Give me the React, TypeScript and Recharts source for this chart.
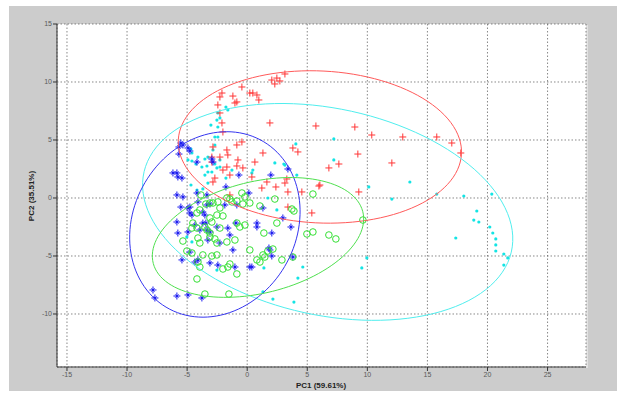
import { CartesianGrid, Scatter, ScatterChart, XAxis, YAxis } from "recharts";

const X_TICKS = [-15, -10, -5, 0, 5, 10, 15, 20, 25];
const Y_TICKS = [-10, -5, 0, 5, 10, 15];

// PC scores, one list per group
const RED_POINTS: [number, number][] = [
  [3.14, 10.69], [2.05, 10.17], [2.3, 9.83], [2.72, 10.09], [2.47, 10.34],
  [-0.44, 9.57], [-2.1, 9.05], [-2.27, 8.71], [-1.19, 8.79], [-0.86, 8.28],
  [-1.02, 8.19], [0.22, 9.05], [0.47, 9.05], [0.81, 8.88], [0.97, 8.45],
  [-2.44, 8.02], [-2.27, 7.33], [-2.1, 6.47], [1.89, 6.47], [-2.02, 5.69],
  [-2.85, 4.4], [-2.94, 3.53], [-2.27, 3.53], [-1.69, 4.14], [-1.61, 3.71],
  [-0.86, 4.57], [-0.44, 4.83], [1.31, 3.88], [3.8, 4.31], [4.22, 3.97],
  [-0.77, 3.28], [-0.86, 2.76], [-1.69, 2.67], [-1.44, 1.98], [-2.02, 2.41],
  [-0.36, 2.59], [0.64, 3.1], [0.39, 1.81], [-2.69, 1.72], [1.22, 0.86],
  [2.39, 0.95], [3.14, 1.29], [4.55, 0.52], [6.05, 1.12], [-2.94, 3.1],
  [5.72, 6.21], [8.96, 6.12], [10.37, 5.43], [12.95, 5.26], [15.78, 5.26],
  [17.03, 4.74], [17.78, 3.88], [9.21, 3.79], [6.8, 2.59], [7.63, 2.93],
  [12.04, 3.02], [3.3, 1.64], [3.39, 0.52], [5.97, 1.03], [9.29, 0.52],
  [3.39, -0.78], [5.38, -1.29], [-1.44, 0.26], [-2.85, 1.38], [1.64, 1.38],
];

const CYAN_POINTS: [number, number][] = [
  [-1.77, 7.84], [-1.61, 7.59], [-2.44, 7.33], [-2.52, 6.72], [-2.27, 6.9],
  [-3.02, 6.29], [-2.44, 6.12], [-2.69, 5.26], [-2.44, 5.26], [-2.69, 4.57],
  [-2.85, 4.14], [-4.68, 4.22], [-4.6, 3.88], [-4.1, 3.53], [-3.52, 3.36],
  [-3.27, 3.53], [-4.93, 3.28], [-4.6, 3.19], [-4.27, 2.93], [-3.35, 2.76],
  [-3.52, 1.98], [-2.69, 2.93], [-2.52, 2.59], [-2.94, 2.24], [-2.27, 3.28],
  [-2.27, 2.67], [-3.27, 2.24], [-3.77, 2.67], [-1.27, 2.41], [-1.77, 1.72],
  [0.47, 2.41], [0.39, 2.16], [2.3, 3.02], [3.14, 2.84], [4.13, 1.98],
  [1.72, 0.0], [-4.68, 1.12], [-4.18, 0.69], [-3.69, 0.78], [4.05, 4.66],
  [7.21, 5.09], [7.21, 3.28], [3.05, 2.93], [10.12, 0.95], [13.54, 1.38],
  [12.04, -0.09], [15.78, 0.34], [18.03, 0.17], [20.36, 0.34], [19.11, -1.12],
  [18.86, -1.9], [19.28, -2.07], [17.36, -3.45], [20.19, -2.5], [20.44, -3.02],
  [20.69, -3.53], [20.69, -4.05], [20.69, -4.57], [21.36, -4.83], [21.69, -5.17],
  [21.36, -5.78], [9.96, -5.17], [9.54, -6.03], [2.47, -1.03], [4.63, -5.95],
  [4.22, -6.9], [1.31, -8.1], [2.14, -8.71], [3.89, -8.97], [1.39, -6.03],
  [-3.27, 1.29], [-4.6, -3.79], [-2.52, -6.21], [-5.02, -3.36],
];

const BLUE_POINTS: [number, number][] = [
  [-5.52, 4.74], [-5.35, 4.57], [-5.68, 4.4], [-4.93, 4.31], [-4.77, 4.05],
  [-5.68, 3.79], [-4.18, 3.1], [-2.94, 3.36], [-2.85, 3.1], [-1.77, 0.95],
  [-0.69, 1.98], [1.97, 1.98], [3.39, 2.5], [-6.18, 2.16], [-5.77, 1.81],
  [-5.43, 1.72], [-5.85, 2.16], [-5.85, 0.26], [-5.35, 0.09], [-4.18, 0.43],
  [-3.35, 0.26], [-5.52, -0.78], [-4.93, -0.86], [-3.35, -0.6], [-0.86, -0.6],
  [-1.86, -0.6], [-4.1, -0.34], [-3.1, -0.52], [-4.77, -0.78], [-5.85, -2.07],
  [-4.77, -1.29], [-4.6, -1.47], [-3.69, -1.21], [-3.52, -1.47], [-3.69, -2.16],
  [-3.44, -2.16], [-4.35, -2.33], [-3.94, -2.76], [-5.77, -3.02], [-4.93, -2.93],
  [-3.35, -2.76], [-3.1, -2.93], [-3.27, -3.62], [-2.52, -2.5], [-1.61, -2.59],
  [-1.44, -3.19], [0.81, -2.16], [2.05, -3.02], [-2.27, -3.88], [-1.19, -4.48],
  [-4.77, -4.66], [-4.35, -5.52], [-4.1, -5.34], [-3.1, -5.6], [-2.44, -5.78],
  [-5.43, -5.34], [-1.02, -5.95], [1.89, -4.48], [0.39, -5.95], [3.8, -5.09],
  [-7.84, -7.93], [-7.68, -8.62], [-5.85, -8.45], [-4.93, -8.36], [-3.77, -8.62],
  [0.14, 0.43], [-0.94, -2.16], [1.31, -0.86], [2.97, -1.72], [3.64, -2.5],
  [1.81, -4.31], [2.05, -5.0], [0.81, -2.5], [0.22, -5.95],
];

const GREEN_POINTS: [number, number][] = [
  [-3.85, 0.26], [-3.44, -0.52], [-2.85, -0.43], [-2.44, -0.34], [-1.69, 0.0],
  [-1.27, -0.34], [-0.86, -0.26], [-0.36, -0.52], [-0.19, 0.09], [0.22, -0.43],
  [-2.27, -0.86], [-2.52, -1.47], [-3.94, -1.03], [-4.18, -1.29], [-2.02, -1.55],
  [-3.1, -1.72], [-2.94, -2.07], [-0.86, -2.16], [-0.61, -2.5], [-0.19, -2.33],
  [-4.52, -2.16], [-4.6, -2.59], [-4.18, -2.59], [-3.52, -2.5], [-3.35, -2.76],
  [-2.27, -2.59], [-3.1, -3.02], [-3.1, -3.36], [-4.1, -3.45], [-3.94, -3.88],
  [-5.35, -3.71], [-1.69, -3.79], [-1.02, -3.62], [-2.52, -3.88], [-2.69, -3.53],
  [0.22, -4.48], [1.39, -3.02], [2.47, -2.16], [3.72, -0.95], [3.89, -1.12],
  [5.47, 0.34], [5.47, -2.93], [4.97, -3.1], [-5.02, -4.57], [-4.6, -4.74],
  [-3.69, -4.91], [-2.94, -5.0], [-2.52, -4.91], [-4.1, -5.52], [-3.94, -5.95],
  [-1.44, -5.69], [-1.61, -5.95], [-2.02, -6.12], [-0.86, -6.55], [0.81, -5.34],
  [1.06, -5.52], [1.47, -5.09], [1.31, -4.91], [2.89, -5.34], [3.8, -5.09],
  [-4.18, -6.98], [-3.52, -8.28], [-1.52, -8.28], [-1.44, -0.09], [-0.44, 0.43],
  [1.06, -0.69], [2.3, -0.09], [6.8, -3.19], [7.38, -3.53], [2.14, -4.4],
  [1.72, -4.57], [9.63, -1.9], [-3.1, -0.43],
];

// confidence ellipses: centre, semi-axes, rotation in degrees
const RED_ELLIPSE = { cx: 6.05, cy: 4.4, a: 11.8, b: 6.55, angle: -3 };
const CYAN_ELLIPSE = { cx: 6.7, cy: -1.2, a: 15.67, b: 8.9, angle: -12.8 };
const BLUE_ELLIPSE = { cx: -2.69, cy: -2.28, a: 8.22, b: 6.83, angle: 65.3 };
const GREEN_ELLIPSE = { cx: 0.9, cy: -3.4, a: 9.0, b: 4.8, angle: 14.5 };

type Ellipse = typeof RED_ELLIPSE;

function toRows(points: [number, number][]) {
  return points.map(([x, y]) => ({ x, y }));
}

function outline(e: Ellipse) {
  const rad = (e.angle * Math.PI) / 180;
  const rows = [];
  for (let i = 0; i <= 120; i++) {
    const t = (i / 120) * Math.PI * 2;
    const u = e.a * Math.cos(t);
    const v = e.b * Math.sin(t);
    rows.push({
      x: e.cx + u * Math.cos(rad) - v * Math.sin(rad),
      y: e.cy + u * Math.sin(rad) + v * Math.cos(rad),
    });
  }
  return rows;
}

const RED = "#ff3636";
const CYAN = "#14e4e4";
const BLUE = "#1a1af0";
const GREEN = "#33e033";

function PlusMark(props: any) {
  const { cx, cy } = props;
  return (
    <path
      d={`M${cx - 3.5},${cy}H${cx + 3.5}M${cx},${cy - 3.5}V${cy + 3.5}`}
      stroke={RED}
      strokeWidth={1}
      fill="none"
    />
  );
}

function StarMark(props: any) {
  const { cx, cy } = props;
  const d = 1.6;
  return (
    <path
      d={`M${cx - 3.5},${cy}H${cx + 3.5}M${cx},${cy - 3.5}V${cy + 3.5}M${cx - d},${cy - d}L${cx + d},${cy + d}M${cx - d},${cy + d}L${cx + d},${cy - d}`}
      stroke={BLUE}
      strokeWidth={1}
      fill="none"
    />
  );
}

function CircleMark(props: any) {
  const { cx, cy } = props;
  return <circle cx={cx} cy={cy} r={3.3} stroke={GREEN} strokeWidth={1} fill="none" />;
}

function DotMark(props: any) {
  const { cx, cy } = props;
  return <circle cx={cx} cy={cy} r={1.6} fill={CYAN} />;
}

const NoMark = () => <g />;

export default function App() {
  const tickStyle = { fill: "#5a5a5a", fontSize: 7, fontFamily: "Liberation Sans, Arial, sans-serif" };
  const labelStyle: React.CSSProperties = {
    position: "absolute",
    fontFamily: "Liberation Sans, Arial, sans-serif",
    fontSize: 8,
    fontWeight: "bold",
    color: "#222",
    whiteSpace: "nowrap",
  };

  return (
    <div style={{ position: "absolute", left: 0, top: 0, width: 617, height: 394, background: "#fff" }}>
      <div style={{ position: "absolute", left: 9, top: 6, width: 608, height: 385, background: "#cccccc" }} />
      <div
        style={{
          position: "absolute",
          left: 57,
          top: 24,
          width: 529,
          height: 343,
          background: "#fff",
          boxShadow: "2px 1px 0 #e2e2e2",
        }}
      />
      <div style={{ position: "absolute", left: 0, top: 0 }}>
        <ScatterChart width={617} height={394} margin={{ top: 24, right: 31, bottom: 0, left: 17 }}>
          <CartesianGrid stroke="#555" strokeDasharray="1.5 2" strokeWidth={0.7} />
          <XAxis
            type="number"
            dataKey="x"
            domain={[-15.83, 28.2]}
            ticks={X_TICKS}
            allowDataOverflow
            height={27}
            tick={tickStyle}
            tickSize={4}
            tickMargin={1}
            axisLine={{ stroke: "#333" }}
            tickLine={{ stroke: "#333" }}
          />
          <YAxis
            type="number"
            dataKey="y"
            domain={[-14.57, 15]}
            ticks={Y_TICKS}
            allowDataOverflow
            width={40}
            tick={tickStyle}
            tickSize={4}
            tickMargin={1}
            axisLine={{ stroke: "#333" }}
            tickLine={{ stroke: "#333" }}
          />
          <Scatter data={toRows(CYAN_POINTS)} shape={DotMark} isAnimationActive={false} />
          <Scatter data={toRows(RED_POINTS)} shape={PlusMark} isAnimationActive={false} />
          <Scatter data={toRows(BLUE_POINTS)} shape={StarMark} isAnimationActive={false} />
          <Scatter data={toRows(GREEN_POINTS)} shape={CircleMark} isAnimationActive={false} />
          <Scatter data={outline(RED_ELLIPSE)} line={{ stroke: "#ff5a5a", strokeWidth: 1 }} shape={NoMark} isAnimationActive={false} />
          <Scatter data={outline(CYAN_ELLIPSE)} line={{ stroke: "#50eeee", strokeWidth: 1 }} shape={NoMark} isAnimationActive={false} />
          <Scatter data={outline(BLUE_ELLIPSE)} line={{ stroke: "#3535f0", strokeWidth: 1 }} shape={NoMark} isAnimationActive={false} />
          <Scatter data={outline(GREEN_ELLIPSE)} line={{ stroke: "#4fe04f", strokeWidth: 1 }} shape={NoMark} isAnimationActive={false} />
        </ScatterChart>
      </div>
      <div style={{ ...labelStyle, left: 321, top: 381, transform: "translateX(-50%)" }}>PC1 (59.61%)</div>
      <div
        style={{
          ...labelStyle,
          left: 31,
          top: 196,
          transform: "translate(-50%, -50%) rotate(-90deg)",
        }}
      >
        PC2 (35.51%)
      </div>
    </div>
  );
}
